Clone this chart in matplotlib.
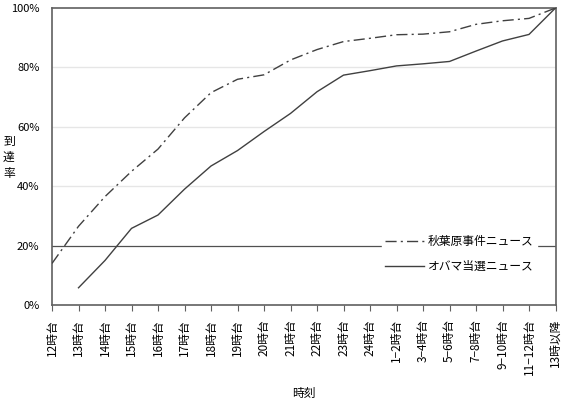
import numpy as np
import matplotlib
matplotlib.use("Agg")
import matplotlib.pyplot as plt

plt.rcParams["font.family"] = ["Noto Sans CJK JP", "DejaVu Sans"]

hours = ["12時台", "13時台", "14時台", "15時台", "16時台", "17時台", "18時台",
         "19時台", "20時台", "21時台", "22時台", "23時台", "24時台",
         "1−2時台", "3−4時台", "5−6時台", "7−8時台", "9−10時台", "11−12時台", "13時以降"]
akihabara = [14, 26.5, 36.5, 45, 52.5, 63, 71.5, 76, 77.5, 82.5, 86, 88.7,
             89.8, 91, 91.2, 92, 94.5, 95.7, 96.5, 100]
obama = [np.nan, 5.8, 15, 25.8, 30.3, 39, 46.8, 52, 58.4, 64.5, 71.8, 77.4,
         78.9, 80.5, 81.2, 82, 85.5, 88.9, 91.1, 100]

LINE = "#404040"
fig = plt.figure(figsize=(5.61, 4.0), dpi=100)
ax = fig.add_axes([0.0927, 0.2375, 0.8975, 0.7425])
x = np.arange(len(hours))

for y in [40, 60, 80]:
    ax.axhline(y, color="#e6e6e6", lw=1.0, zorder=0)
ax.axhline(20, color="#505050", lw=0.9, zorder=1)

ax.plot(x, akihabara, color=LINE, lw=1.0, dashes=(8, 3, 1.5, 3),
        label="秋葉原事件ニュース", zorder=3)
ax.plot(x, obama, color=LINE, lw=1.0, label="オバマ当選ニュース", zorder=3)

ax.set_xlim(0, len(hours) - 1)
ax.set_ylim(0, 100)
ax.set_xticks(x)
ax.set_xticklabels(hours, rotation=90, va="top", ha="center", fontsize=8.5)
ax.set_yticks([0, 20, 40, 60, 80, 100])
ax.set_yticklabels([f"{v}%" for v in [0, 20, 40, 60, 80, 100]], fontsize=8)
ax.tick_params(axis="x", direction="out", length=4, width=0.8, color="#606060", pad=6)
ax.tick_params(axis="y", length=0, pad=9)
for s in ax.spines.values():
    s.set_color("#606060")
    s.set_linewidth(1.2)

ax.set_xlabel("時刻", fontsize=8.5, labelpad=8)
for i, ch in enumerate("到達率"):
    fig.text(0.016, 0.645 - i * 0.039, ch, fontsize=8.5, ha="center", va="center")

leg = ax.legend(loc="lower right", bbox_to_anchor=(0.975, 0.075), frameon=True,
                fontsize=8.5, handlelength=3.3, handletextpad=0.3,
                borderpad=0.3, labelspacing=1.0)
leg.get_frame().set_edgecolor("white")
leg.get_frame().set_facecolor("white")
leg.get_frame().set_alpha(1)

fig.savefig("out.png", dpi=100)
